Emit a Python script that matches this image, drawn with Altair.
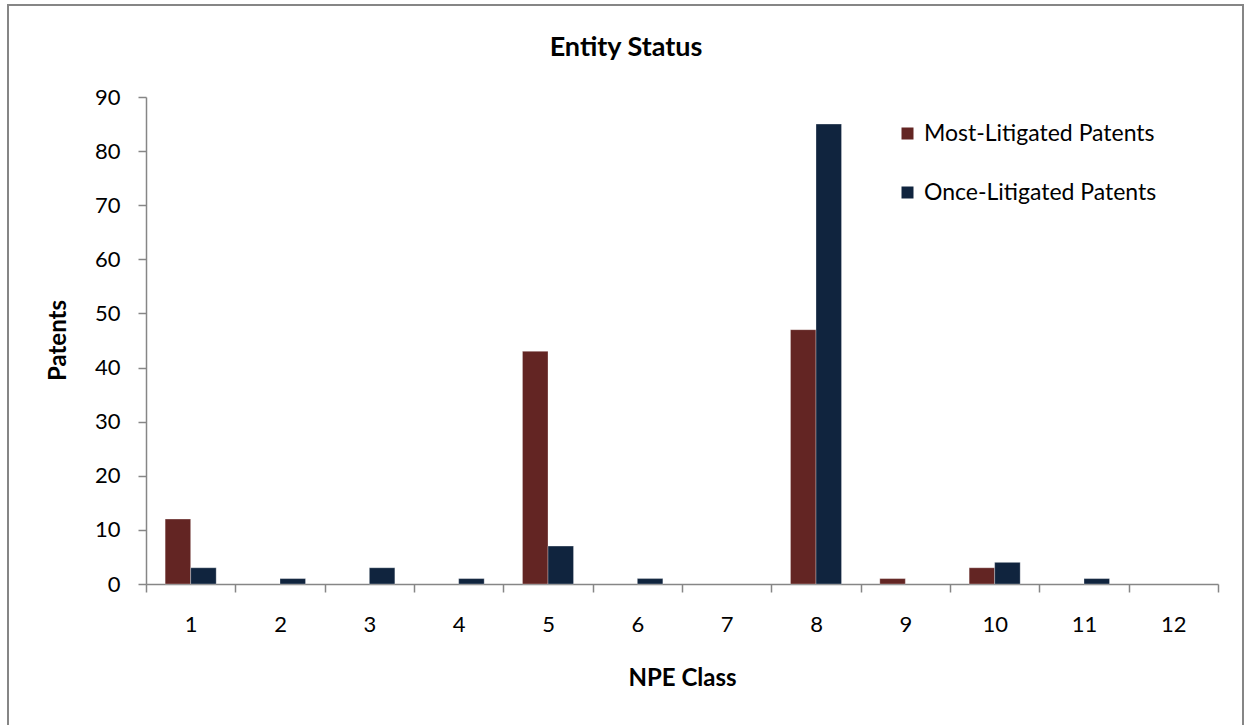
import altair as alt
import pandas as pd

classes = [str(i) for i in range(1, 13)]
most_litigated = [12, 0, 0, 0, 43, 0, 0, 47, 1, 3, 0, 0]
once_litigated = [3, 1, 3, 1, 7, 1, 0, 85, 0, 4, 1, 0]
series_names = ["Most-Litigated Patents", "Once-Litigated Patents"]
series_colors = ["#632523", "#10243E"]
y_ticks = list(range(0, 100, 10))

rows = []
for c, m, o in zip(classes, most_litigated, once_litigated):
    rows.append({"cls": c, "series": series_names[0], "value": m})
    rows.append({"cls": c, "series": series_names[1], "value": o})
df = pd.DataFrame(rows)

FONT = "Lato"
AXIS_GRAY = "#868686"

bars = alt.Chart(df).transform_filter("datum.value > 0").mark_bar(
    stroke="#ffffff", strokeWidth=0.5, strokeOpacity=0.6
).encode(
    x=alt.X(
        "cls:N",
        sort=classes,
        scale=alt.Scale(domain=classes, paddingInner=0, paddingOuter=0),
        axis=alt.Axis(
            title="NPE Class",
            labelAngle=0,
            tickBand="extent",
            tickSize=8,
            labelPadding=22,
            labelFontSize=22,
            titleFontSize=24,
            titleFontWeight="bold",
            titleBaseline="middle",
            titleY=94,
            domainColor=AXIS_GRAY,
            tickColor=AXIS_GRAY,
            domainWidth=1.5,
            tickWidth=1.5,
            grid=False,
        ),
    ),
    xOffset=alt.XOffset(
        "series:N",
        sort=series_names,
        scale=alt.Scale(domain=series_names, paddingInner=0, paddingOuter=0.75),
    ),
    y=alt.Y(
        "value:Q",
        scale=alt.Scale(domain=[0, 90], nice=False),
        axis=alt.Axis(
            title="Patents",
            values=y_ticks,
            tickSize=8,
            labelPadding=18,
            labelFontSize=22,
            titleFontSize=24,
            titleFontWeight="bold",
            titleX=-88,
            titleY=243,
            titleBaseline="middle",
            domainColor=AXIS_GRAY,
            tickColor=AXIS_GRAY,
            domainWidth=1.5,
            tickWidth=1.5,
            grid=False,
        ),
    ),
    color=alt.Color(
        "series:N",
        sort=series_names,
        scale=alt.Scale(domain=series_names, range=series_colors),
        legend=alt.Legend(
            title=None,
            orient="none",
            legendX=750,
            legendY=25,
            symbolType="square",
            symbolSize=144,
            symbolStrokeWidth=0,
            labelFontSize=23,
            labelOffset=5,
            labelLimit=400,
            rowPadding=35,
        ),
    ),
)

frame = alt.Chart(df).mark_rect(
    fill=None, stroke=AXIS_GRAY, strokeWidth=2
).encode(
    x=alt.value(-138), x2=alt.value(1097), y=alt.value(-92), y2=alt.value(640)
)

chart = (
    alt.layer(frame, bars)
    .properties(
        width=1072,
        height=487,
        title=alt.TitleParams(
            "Entity Status",
            fontSize=27,
            fontWeight="bold",
            anchor="middle",
            frame="group",
            baseline="middle",
            offset=-71,
            dx=-56,
        ),
        autosize=alt.AutoSizeParams(type="none"),
        padding={"left": 146, "top": 97, "right": 29, "bottom": 141},
        background="white",
    )
    .configure(font=FONT)
    .configure_view(stroke=None)
    .configure_axis(labelColor="#000000", titleColor="#000000", labelFont=FONT, titleFont=FONT)
    .configure_legend(labelColor="#000000", labelFont=FONT)
    .configure_title(color="#000000", font=FONT)
)

chart.save("out.html", embed_options={"renderer": "svg", "actions": False})
